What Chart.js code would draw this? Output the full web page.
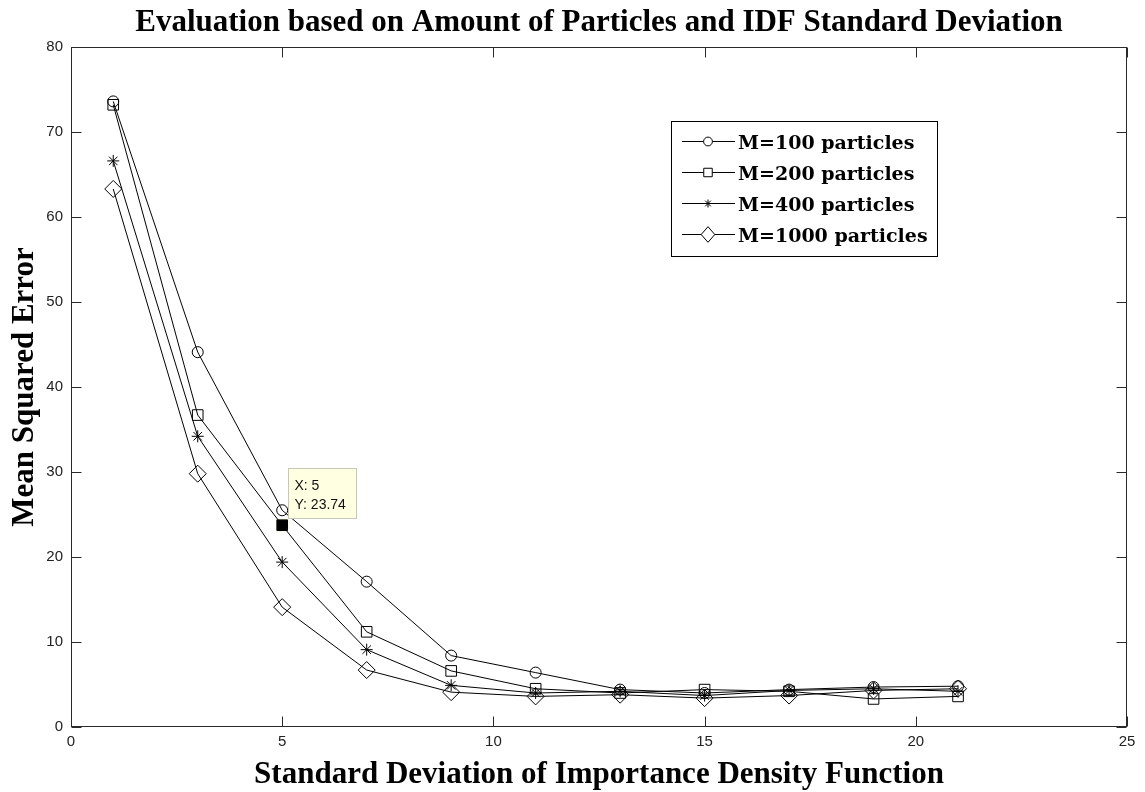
<!DOCTYPE html>
<html><head><meta charset="utf-8">
<script src="https://cdn.jsdelivr.net/npm/chart.js@4.4.1/dist/chart.umd.min.js"></script>
<style>html,body{margin:0;padding:0;background:#fff}#wrap{width:1145px;height:792px;position:relative}</style>
</head><body><div id="wrap"><canvas id="c"></canvas></div>
<script>
// ---- data ----
const sigma = [1, 3, 5, 7, 9, 11, 13, 15, 17, 19, 21];
const m100  = [73.6, 44.1, 25.5, 17.1, 8.4, 6.4, 4.4, 4.0, 4.4, 4.7, 4.8];
const m200  = [73.2, 36.7, 23.74, 11.2, 6.6, 4.5, 4.0, 4.4, 4.2, 3.3, 3.6];
const m400  = [66.6, 34.2, 19.4, 9.1, 4.9, 4.0, 4.2, 3.7, 4.3, 4.5, 4.2];
const m1000 = [63.3, 29.8, 14.1, 6.7, 4.1, 3.6, 3.8, 3.4, 3.7, 4.3, 4.5];
const seriesLabels = ['M=100 particles', 'M=200 particles', 'M=400 particles', 'M=1000 particles'];
const xTickValues = [0, 5, 10, 15, 20, 25];
const yTickValues = [0, 10, 20, 30, 40, 50, 60, 70, 80];
const cursorX = 5, cursorY = 23.74;
const tipLines = ['X: 5', 'Y: 23.74'];

const toPts = arr => sigma.map((s, i) => ({x: s, y: arr[i]}));
const styles = [
  {pointStyle: 'circle', pointRadius: 5.5},
  {pointStyle: 'rect', pointRadius: 7.5},
  {pointStyle: 'star', pointRadius: 6},
  {pointStyle: 'rectRot', pointRadius: 8.5}
];
const seriesData = [m100, m200, m400, m1000];

const datasets = seriesData.map((arr, i) => ({
  label: seriesLabels[i],
  data: toPts(arr),
  borderColor: '#000',
  borderWidth: 1,
  pointBorderColor: '#000',
  pointBackgroundColor: 'rgba(0,0,0,0)',
  pointBorderWidth: 1,
  pointStyle: styles[i].pointStyle,
  pointRadius: styles[i].pointRadius,
  fill: false,
  tension: 0
}));
datasets.push({
  label: 'cursor',
  data: [{x: cursorX, y: cursorY}],
  showLine: false,
  pointStyle: 'rect',
  pointRadius: 8,
  pointBackgroundColor: '#000',
  pointBorderColor: '#e8e8c0',
  pointBorderWidth: 1
});

function drawMarker(ctx, style, r, x, y) {
  ctx.beginPath();
  if (style === 'circle') {
    ctx.arc(x, y, r, 0, Math.PI * 2);
  } else if (style === 'rect') {
    const s = r * Math.SQRT1_2;
    ctx.rect(x - s, y - s, 2 * s, 2 * s);
  } else if (style === 'star') {
    ctx.moveTo(x - r, y); ctx.lineTo(x + r, y);
    ctx.moveTo(x, y - r); ctx.lineTo(x, y + r);
    const d = r * Math.SQRT1_2;
    ctx.moveTo(x - d, y - d); ctx.lineTo(x + d, y + d);
    ctx.moveTo(x - d, y + d); ctx.lineTo(x + d, y - d);
  }
  ctx.stroke();
}

const framePlugin = {
  id: 'frame',
  beforeDraw(chart) {
    const ctx = chart.ctx;
    ctx.save(); ctx.fillStyle = '#fff'; ctx.fillRect(0, 0, chart.width, chart.height); ctx.restore();
  },
  beforeDatasetsDraw(chart) {
    const {ctx, chartArea: a, scales: {x, y}} = chart;
    ctx.save();
    ctx.strokeStyle = '#2a2a2a';
    ctx.lineWidth = 1;
    const L = Math.round(a.left) + 0.5, R = Math.round(a.right) - 0.5, T = Math.round(a.top) + 0.5, B = Math.round(a.bottom) - 0.5;
    ctx.strokeRect(L, T, R - L, B - T);
    const tl = 10;
    ctx.beginPath();
    x.ticks.forEach(t => {
      const px = Math.round(x.getPixelForValue(t.value)) + 0.5;
      ctx.moveTo(px, B); ctx.lineTo(px, B - tl);
      ctx.moveTo(px, T); ctx.lineTo(px, T + tl);
    });
    y.ticks.forEach(t => {
      const py = Math.round(y.getPixelForValue(t.value)) + 0.5;
      ctx.moveTo(L, py); ctx.lineTo(L + tl, py);
      ctx.moveTo(R, py); ctx.lineTo(R - tl, py);
    });
    ctx.stroke();
    ctx.restore();
  },
  afterDraw(chart) {
    const {ctx, scales: {x, y}} = chart;
    // legend
    ctx.save();
    const bx = 671.5, by = 121.5, bw = 266, bh = 135;
    ctx.fillStyle = '#fff'; ctx.fillRect(bx, by, bw, bh);
    ctx.strokeStyle = '#000'; ctx.lineWidth = 1; ctx.strokeRect(bx, by, bw, bh);
    chart.data.datasets.slice(0, 4).forEach((ds, i) => {
      const cy = 141.5 + i * 31;
      ctx.strokeStyle = '#000';
      ctx.beginPath(); ctx.moveTo(682, cy); ctx.lineTo(735, cy); ctx.stroke();
      ctx.fillStyle = '#fff';
      const r = ds.pointRadius * 0.8;
      if (ds.pointStyle === 'rectRot') {
        ctx.beginPath(); ctx.moveTo(708, cy - r * 1.15); ctx.lineTo(708 + r, cy); ctx.lineTo(708, cy + r * 1.15); ctx.lineTo(708 - r, cy); ctx.closePath();
        ctx.fill(); ctx.stroke();
      } else if (ds.pointStyle === 'star') {
        drawMarker(ctx, 'star', 4, 708, cy);
      } else {
        ctx.beginPath();
        if (ds.pointStyle === 'circle') ctx.arc(708, cy, r, 0, Math.PI * 2);
        else { const s = r * Math.SQRT1_2; ctx.rect(708 - s, cy - s, 2 * s, 2 * s); }
        ctx.fill();
        drawMarker(ctx, ds.pointStyle, r, 708, cy);
      }
      ctx.fillStyle = '#000';
      ctx.font = 'bold 19px "DejaVu Serif"';
      ctx.textBaseline = 'alphabetic';
      ctx.textAlign = 'left';
      ctx.fillText(ds.label, 738, cy + 7);
    });
    // data tip
    const px = x.getPixelForValue(cursorX), py = y.getPixelForValue(cursorY);
    const tx = Math.round(px + 6) + 0.5, ty = Math.round(py - 57) + 0.5;
    ctx.fillStyle = '#ffffe1';
    ctx.fillRect(tx, ty, 68, 50);
    ctx.strokeStyle = '#c8c8b8';
    ctx.strokeRect(tx, ty, 68, 50);
    ctx.fillStyle = '#111';
    ctx.font = '14px "Liberation Sans"';
    ctx.fillText(tipLines[0], tx + 6, ty + 21);
    ctx.fillText(tipLines[1], tx + 6, ty + 40);
    ctx.restore();
  }
};

new Chart(document.getElementById('c'), {
  type: 'line',
  data: {datasets},
  options: {
    responsive: true,
    maintainAspectRatio: false,
    animation: false,
    devicePixelRatio: 1,
    layout: {padding: {left: 0, right: 18, top: 0, bottom: 0}},
    plugins: {
      legend: {display: false},
      tooltip: {enabled: false},
      title: {
        display: true,
        fullSize: false,
        text: 'Evaluation based on Amount of Particles and IDF Standard Deviation',
        color: '#000',
        font: {family: '"Liberation Serif"', size: 31, weight: 'bold', lineHeight: 1},
        padding: {top: 7, bottom: 9}
      }
    },
    scales: {
      x: {
        type: 'linear', min: 0, max: 25,
        afterBuildTicks: s => { s.ticks = xTickValues.map(v => ({value: v})); },
        afterFit: s => { s.height = 65; },
        grid: {display: false, drawTicks: false},
        border: {display: false},
        ticks: {font: {family: '"Liberation Sans"', size: 15}, color: '#222', padding: 6, maxRotation: 0, autoSkip: false},
        title: {display: true, text: 'Standard Deviation of Importance Density Function', color: '#000',
          font: {family: '"Liberation Serif"', size: 31, weight: 'bold', lineHeight: 1}, padding: {top: 0, bottom: 2}}
      },
      y: {
        type: 'linear', min: 0, max: 80,
        afterBuildTicks: s => { s.ticks = yTickValues.map(v => ({value: v})); },
        afterFit: s => { s.width = 71; },
        grid: {display: false, drawTicks: false},
        border: {display: false},
        ticks: {font: {family: '"Liberation Sans"', size: 15}, color: '#222', padding: 8, autoSkip: false},
        title: {display: true, text: 'Mean Squared Error', color: '#000',
          font: {family: '"Liberation Serif"', size: 31, weight: 'bold', lineHeight: 1}, padding: {top: 9, bottom: 0}}
      }
    }
  },
  plugins: [framePlugin]
});
</script>
</body></html>
